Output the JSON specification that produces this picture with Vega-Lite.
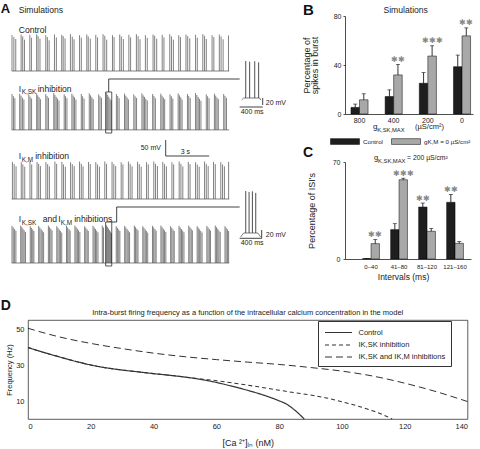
{
"$schema": "https://vega.github.io/schema/vega-lite/v6.json",
"padding": {"left": 0, "top": 3, "right": 0, "bottom": 0},
"config": {
  "font": "Liberation Sans",
  "view": {"stroke": null},
  "axis": {"grid": false, "domainColor": "#222", "tickColor": "#222", "labelColor": "#222", "titleColor": "#222", "titleFontWeight": "normal", "domainWidth": 0.8, "tickWidth": 0.8},
  "legend": {"labelColor": "#222"}
},
"datasets": {
  "base": [{"t":0,"t2":15,"v":-68},{"t":0,"t2":15,"v":-252},{"t":0,"t2":15,"v":-468},{"t":0,"t2":15,"v":-668}],
  "s1": [{"t":0.02,"v":44},{"t":0.15,"v":38},{"t":0.28,"v":32},{"t":0.65,"v":46},{"t":0.76,"v":40},{"t":0.88,"v":30},{"t":1.25,"v":45},{"t":1.36,"v":36},{"t":1.72,"v":47},{"t":1.82,"v":41},{"t":1.95,"v":33},{"t":2.35,"v":44},{"t":2.46,"v":38},{"t":2.58,"v":28},{"t":2.95,"v":46},{"t":3.08,"v":37},{"t":3.45,"v":45},{"t":3.55,"v":41},{"t":3.68,"v":34},{"t":4.05,"v":47},{"t":4.18,"v":39},{"t":4.3,"v":31},{"t":4.68,"v":44},{"t":4.8,"v":36},{"t":5.18,"v":46},{"t":5.28,"v":40},{"t":5.42,"v":33},{"t":5.8,"v":45},{"t":5.92,"v":37},{"t":6.3,"v":47},{"t":6.42,"v":42},{"t":6.55,"v":30},{"t":6.95,"v":44},{"t":7.06,"v":38},{"t":7.45,"v":46},{"t":7.56,"v":40},{"t":7.7,"v":32},{"t":8.08,"v":45},{"t":8.2,"v":37},{"t":8.6,"v":47},{"t":8.72,"v":41},{"t":8.85,"v":31},{"t":9.22,"v":44},{"t":9.35,"v":36},{"t":9.75,"v":46},{"t":9.86,"v":42},{"t":10.0,"v":33},{"t":10.38,"v":45},{"t":10.5,"v":37},{"t":10.9,"v":47},{"t":11.02,"v":40},{"t":11.15,"v":30},{"t":11.52,"v":44},{"t":11.64,"v":38},{"t":12.02,"v":46},{"t":12.14,"v":41},{"t":12.28,"v":34},{"t":12.68,"v":45},{"t":12.8,"v":36},{"t":13.18,"v":47},{"t":13.3,"v":42},{"t":13.42,"v":32},{"t":13.82,"v":44},{"t":13.94,"v":38},{"t":14.32,"v":46},{"t":14.44,"v":40},{"t":14.58,"v":31},{"t":14.95,"v":43}],
  "s2": [{"t":0.02,"v":-140},{"t":0.12,"v":-147},{"t":0.22,"v":-153},{"t":0.55,"v":-139},{"t":0.64,"v":-145},{"t":0.74,"v":-151},{"t":0.84,"v":-157},{"t":1.18,"v":-141},{"t":1.27,"v":-148},{"t":1.37,"v":-154},{"t":1.72,"v":-138},{"t":1.8,"v":-144},{"t":1.89,"v":-150},{"t":1.98,"v":-156},{"t":2.35,"v":-140},{"t":2.44,"v":-146},{"t":2.54,"v":-152},{"t":2.9,"v":-137},{"t":2.98,"v":-143},{"t":3.07,"v":-149},{"t":3.16,"v":-154},{"t":3.26,"v":-160},{"t":3.62,"v":-141},{"t":3.71,"v":-147},{"t":3.81,"v":-153},{"t":4.15,"v":-139},{"t":4.24,"v":-145},{"t":4.33,"v":-150},{"t":4.43,"v":-157},{"t":4.8,"v":-140},{"t":4.89,"v":-147},{"t":4.99,"v":-154},{"t":5.35,"v":-138},{"t":5.44,"v":-144},{"t":5.53,"v":-150},{"t":5.62,"v":-156},{"t":6.0,"v":-141},{"t":6.09,"v":-147},{"t":6.19,"v":-152},{"t":6.55,"v":-137},{"t":6.62,"v":-143},{"t":6.7,"v":-149},{"t":6.78,"v":-155},{"t":6.86,"v":-160},{"t":7.22,"v":-140},{"t":7.31,"v":-146},{"t":7.41,"v":-153},{"t":7.78,"v":-139},{"t":7.87,"v":-145},{"t":7.96,"v":-151},{"t":8.05,"v":-157},{"t":8.42,"v":-141},{"t":8.51,"v":-147},{"t":8.61,"v":-152},{"t":8.98,"v":-138},{"t":9.07,"v":-144},{"t":9.16,"v":-149},{"t":9.25,"v":-155},{"t":9.35,"v":-160},{"t":9.72,"v":-140},{"t":9.81,"v":-146},{"t":9.91,"v":-153},{"t":10.28,"v":-139},{"t":10.37,"v":-145},{"t":10.46,"v":-151},{"t":10.55,"v":-156},{"t":10.92,"v":-141},{"t":11.01,"v":-147},{"t":11.11,"v":-154},{"t":11.48,"v":-138},{"t":11.57,"v":-144},{"t":11.66,"v":-150},{"t":11.75,"v":-157},{"t":12.12,"v":-140},{"t":12.21,"v":-146},{"t":12.31,"v":-152},{"t":12.68,"v":-137},{"t":12.77,"v":-143},{"t":12.86,"v":-149},{"t":12.95,"v":-155},{"t":13.05,"v":-161},{"t":13.42,"v":-141},{"t":13.51,"v":-147},{"t":13.61,"v":-153},{"t":13.98,"v":-139},{"t":14.07,"v":-145},{"t":14.16,"v":-151},{"t":14.25,"v":-156},{"t":14.62,"v":-140},{"t":14.71,"v":-146},{"t":14.81,"v":-152}],
  "s3": [{"t":0.05,"v":-352},{"t":0.17,"v":-359},{"t":0.3,"v":-366},{"t":0.66,"v":-353},{"t":0.77,"v":-360},{"t":0.9,"v":-367},{"t":1.26,"v":-351},{"t":1.38,"v":-360},{"t":1.75,"v":-352},{"t":1.86,"v":-358},{"t":1.98,"v":-365},{"t":2.36,"v":-353},{"t":2.48,"v":-359},{"t":2.6,"v":-366},{"t":2.98,"v":-351},{"t":3.1,"v":-358},{"t":3.46,"v":-352},{"t":3.57,"v":-360},{"t":3.7,"v":-367},{"t":4.06,"v":-353},{"t":4.18,"v":-359},{"t":4.31,"v":-365},{"t":4.68,"v":-351},{"t":4.8,"v":-358},{"t":4.92,"v":-366},{"t":5.3,"v":-352},{"t":5.42,"v":-359},{"t":5.8,"v":-353},{"t":5.92,"v":-360},{"t":6.05,"v":-367},{"t":6.42,"v":-351},{"t":6.54,"v":-358},{"t":6.92,"v":-352},{"t":7.04,"v":-359},{"t":7.17,"v":-365},{"t":7.55,"v":-353},{"t":7.67,"v":-360},{"t":8.05,"v":-351},{"t":8.17,"v":-358},{"t":8.3,"v":-366},{"t":8.68,"v":-352},{"t":8.8,"v":-359},{"t":8.93,"v":-367},{"t":9.3,"v":-353},{"t":9.42,"v":-360},{"t":9.8,"v":-351},{"t":9.92,"v":-358},{"t":10.05,"v":-365},{"t":10.42,"v":-352},{"t":10.54,"v":-359},{"t":10.67,"v":-366},{"t":11.05,"v":-353},{"t":11.17,"v":-360},{"t":11.55,"v":-351},{"t":11.67,"v":-358},{"t":11.8,"v":-366},{"t":12.18,"v":-352},{"t":12.3,"v":-359},{"t":12.68,"v":-353},{"t":12.8,"v":-360},{"t":12.93,"v":-367},{"t":13.3,"v":-351},{"t":13.42,"v":-358},{"t":13.55,"v":-365},{"t":13.92,"v":-352},{"t":14.04,"v":-359},{"t":14.42,"v":-353},{"t":14.54,"v":-360},{"t":14.67,"v":-366},{"t":14.96,"v":-352}],
  "s4": [{"t":0.02,"v":-552},{"t":0.11,"v":-557},{"t":0.2,"v":-562},{"t":0.29,"v":-567},{"t":0.62,"v":-551},{"t":0.7,"v":-556},{"t":0.78,"v":-561},{"t":0.86,"v":-566},{"t":0.95,"v":-571},{"t":1.28,"v":-553},{"t":1.36,"v":-558},{"t":1.45,"v":-563},{"t":1.53,"v":-568},{"t":1.86,"v":-552},{"t":1.94,"v":-557},{"t":2.03,"v":-562},{"t":2.11,"v":-567},{"t":2.2,"v":-572},{"t":2.53,"v":-551},{"t":2.61,"v":-556},{"t":2.7,"v":-561},{"t":2.78,"v":-566},{"t":3.11,"v":-553},{"t":3.19,"v":-558},{"t":3.28,"v":-563},{"t":3.36,"v":-568},{"t":3.45,"v":-573},{"t":3.78,"v":-552},{"t":3.86,"v":-557},{"t":3.95,"v":-562},{"t":4.03,"v":-567},{"t":4.36,"v":-551},{"t":4.44,"v":-556},{"t":4.53,"v":-561},{"t":4.61,"v":-566},{"t":4.7,"v":-571},{"t":5.03,"v":-553},{"t":5.11,"v":-558},{"t":5.2,"v":-563},{"t":5.28,"v":-568},{"t":5.61,"v":-552},{"t":5.69,"v":-557},{"t":5.78,"v":-562},{"t":5.86,"v":-567},{"t":5.95,"v":-572},{"t":6.25,"v":-551},{"t":6.33,"v":-557},{"t":6.53,"v":-550},{"t":6.6,"v":-555},{"t":6.67,"v":-560},{"t":6.74,"v":-565},{"t":6.81,"v":-570},{"t":6.88,"v":-575},{"t":7.21,"v":-553},{"t":7.29,"v":-558},{"t":7.38,"v":-563},{"t":7.46,"v":-568},{"t":7.79,"v":-552},{"t":7.87,"v":-557},{"t":7.96,"v":-562},{"t":8.04,"v":-567},{"t":8.13,"v":-572},{"t":8.46,"v":-551},{"t":8.54,"v":-556},{"t":8.63,"v":-561},{"t":8.71,"v":-566},{"t":9.04,"v":-553},{"t":9.12,"v":-558},{"t":9.21,"v":-563},{"t":9.29,"v":-568},{"t":9.38,"v":-573},{"t":9.71,"v":-552},{"t":9.79,"v":-557},{"t":9.88,"v":-562},{"t":9.96,"v":-567},{"t":10.29,"v":-551},{"t":10.37,"v":-556},{"t":10.46,"v":-561},{"t":10.54,"v":-566},{"t":10.63,"v":-571},{"t":10.96,"v":-553},{"t":11.04,"v":-558},{"t":11.13,"v":-563},{"t":11.21,"v":-568},{"t":11.54,"v":-552},{"t":11.62,"v":-557},{"t":11.71,"v":-562},{"t":11.79,"v":-567},{"t":11.88,"v":-572},{"t":12.21,"v":-551},{"t":12.29,"v":-556},{"t":12.38,"v":-561},{"t":12.46,"v":-566},{"t":12.79,"v":-553},{"t":12.87,"v":-558},{"t":12.96,"v":-563},{"t":13.04,"v":-568},{"t":13.13,"v":-573},{"t":13.46,"v":-552},{"t":13.54,"v":-557},{"t":13.63,"v":-562},{"t":13.71,"v":-567},{"t":14.04,"v":-551},{"t":14.12,"v":-556},{"t":14.21,"v":-561},{"t":14.29,"v":-566},{"t":14.38,"v":-571},{"t":14.71,"v":-553},{"t":14.79,"v":-558},{"t":14.88,"v":-563},{"t":14.96,"v":-568}],
  "ins": [{"t":16.14,"v":-36.75,"v2":-152.4},{"t":16.41,"v":-39,"v2":-152.4},{"t":16.76,"v":-37.5,"v2":-152.4},{"t":17.03,"v":-41,"v2":-152.4},{"t":16.14,"v":-443,"v2":-574.25},{"t":16.37,"v":-446,"v2":-574.25},{"t":16.6,"v":-444,"v2":-574.25},{"t":16.83,"v":-449,"v2":-574.25}],
  "hump": [{"k":1,"t":15.86,"v":-158.6},{"k":1,"t":16.0,"v":-152.4},{"k":1,"t":17.1,"v":-152.4},{"k":1,"t":17.17,"v":-158.6},{"k":2,"t":15.79,"v":-586.75},{"k":2,"t":16.0,"v":-574.25},{"k":2,"t":16.97,"v":-574.25},{"k":2,"t":17.17,"v":-586.75}],
  "seg": [{"t":6.69,"t2":6.69,"v":-133.6,"v2":-93},{"t":6.69,"t2":15.72,"v":-93,"v2":-93},{"t":6.9,"t2":7.24,"v":-539.9,"v2":-539.9},{"t":7.24,"t2":7.24,"v":-539.9,"v2":-493},{"t":7.24,"t2":15.72,"v":-493,"v2":-493},{"t":10.62,"t2":10.62,"v":-283.6,"v2":-333.6},{"t":10.62,"t2":13.62,"v":-333.6,"v2":-333.6},{"t":17.31,"t2":17.31,"v":-152.4,"v2":-174.25},{"t":15.72,"t2":17.31,"v":-180.5,"v2":-180.5},{"t":17.24,"t2":17.24,"v":-564.9,"v2":-590.8},{"t":15.72,"t2":17.24,"v":-590.8,"v2":-590.8}],
  "box": [{"t":6.48,"t2":6.9,"v":-133.6,"v2":-261.75},{"t":6.48,"t2":6.9,"v":-539.9,"v2":-677.4}],
  "tA": [{"t":-0.7586,"v":113.25,"s":"A"}],
  "tM": [{"t":0.483,"v":113.25,"s":"Simulations"},{"t":0.483,"v":50.75,"s":"Control"},{"t":0.483,"v":-133.6,"s":"I"},{"t":1.793,"v":-133.6,"s":"inhibition"},{"t":0.483,"v":-343,"s":"I"},{"t":1.62,"v":-343,"s":"inhibition"},{"t":0.483,"v":-539.9,"s":"I"},{"t":2.138,"v":-539.9,"s":"and"},{"t":3.207,"v":-539.9,"s":"I"},{"t":4.31,"v":-539.9,"s":"inhibitions"}],
  "tS": [{"t":0.69,"v":-133.6,"s":"K,SK"},{"t":0.69,"v":-343,"s":"K,M"},{"t":0.69,"v":-539.9,"s":"K,SK"},{"t":3.379,"v":-539.9,"s":"K,M"}],
  "tR": [{"t":8.897,"v":-314.9,"s":"50 mV"},{"t":11.655,"v":-328.9,"s":"3 s"},{"t":17.52,"v":-174.25,"s":"20 mV"},{"t":15.79,"v":-202.4,"s":"400 ms"},{"t":17.52,"v":-586.75,"s":"20 mV"},{"t":15.79,"v":-611.75,"s":"400 ms"}],
  "bData": [
    {"g":"800","c":"Control","m":5.4,"hi":8.1,"s":""},
    {"g":"800","c":"gK,M = 0 µS/cm²","m":11.6,"hi":16.5,"s":""},
    {"g":"400","c":"Control","m":14.3,"hi":19.7,"s":""},
    {"g":"400","c":"gK,M = 0 µS/cm²","m":31.9,"hi":40.5,"s":"✱✱"},
    {"g":"200","c":"Control","m":25.1,"hi":33.8,"s":""},
    {"g":"200","c":"gK,M = 0 µS/cm²","m":47.3,"hi":55.7,"s":"✱✱✱"},
    {"g":"0","c":"Control","m":38.6,"hi":48.1,"s":""},
    {"g":"0","c":"gK,M = 0 µS/cm²","m":63.8,"hi":70.3,"s":"✱✱"}
  ],
  "cData": [
    {"iv":"0–40","c":"Control","m":0.3,"hi":0.3,"s":""},
    {"iv":"0–40","c":"gK,M = 0 µS/cm²","m":11.1,"hi":14.0,"s":"✱✱"},
    {"iv":"41–80","c":"Control","m":21.2,"hi":25.5,"s":""},
    {"iv":"41–80","c":"gK,M = 0 µS/cm²","m":57.2,"hi":58.3,"s":"✱✱✱"},
    {"iv":"81–120","c":"Control","m":37.5,"hi":40.4,"s":"✱✱"},
    {"iv":"81–120","c":"gK,M = 0 µS/cm²","m":20.0,"hi":22.0,"s":""},
    {"iv":"121–160","c":"Control","m":40.9,"hi":46.6,"s":"✱✱"},
    {"iv":"121–160","c":"gK,M = 0 µS/cm²","m":11.3,"hi":12.6,"s":""}
  ],
  "dData": [
    {"s":"Control","ca":0,"f":39.7},{"s":"Control","ca":5,"f":37.0},{"s":"Control","ca":10,"f":34.5},{"s":"Control","ca":15,"f":32.1},{"s":"Control","ca":20,"f":30.0},{"s":"Control","ca":25,"f":28.4},{"s":"Control","ca":30,"f":27.2},{"s":"Control","ca":35,"f":26.2},{"s":"Control","ca":40,"f":25.2},{"s":"Control","ca":45,"f":24.3},{"s":"Control","ca":50,"f":23.3},{"s":"Control","ca":55,"f":22.0},{"s":"Control","ca":60,"f":20.3},{"s":"Control","ca":65,"f":18.2},{"s":"Control","ca":70,"f":15.9},{"s":"Control","ca":75,"f":13.3},{"s":"Control","ca":80,"f":10.1},{"s":"Control","ca":82,"f":8.6},{"s":"Control","ca":85,"f":4.9},{"s":"Control","ca":88,"f":0},
    {"s":"IK,SK inhibition","ca":0,"f":39.7},{"s":"IK,SK inhibition","ca":5,"f":37.0},{"s":"IK,SK inhibition","ca":10,"f":34.5},{"s":"IK,SK inhibition","ca":15,"f":32.1},{"s":"IK,SK inhibition","ca":20,"f":30.0},{"s":"IK,SK inhibition","ca":25,"f":28.4},{"s":"IK,SK inhibition","ca":30,"f":27.2},{"s":"IK,SK inhibition","ca":35,"f":26.2},{"s":"IK,SK inhibition","ca":40,"f":25.2},{"s":"IK,SK inhibition","ca":45,"f":24.3},{"s":"IK,SK inhibition","ca":50,"f":23.3},{"s":"IK,SK inhibition","ca":55,"f":22.2},{"s":"IK,SK inhibition","ca":60,"f":21.3},{"s":"IK,SK inhibition","ca":65,"f":20.1},{"s":"IK,SK inhibition","ca":70,"f":18.8},{"s":"IK,SK inhibition","ca":75,"f":17.4},{"s":"IK,SK inhibition","ca":80,"f":16.0},{"s":"IK,SK inhibition","ca":85,"f":14.6},{"s":"IK,SK inhibition","ca":90,"f":13.3},{"s":"IK,SK inhibition","ca":95,"f":11.7},{"s":"IK,SK inhibition","ca":100,"f":9.6},{"s":"IK,SK inhibition","ca":105,"f":7.2},{"s":"IK,SK inhibition","ca":110,"f":4.4},{"s":"IK,SK inhibition","ca":113,"f":2.4},{"s":"IK,SK inhibition","ca":116,"f":0},
    {"s":"IK,SK and IK,M inhibitions","ca":0,"f":50.4},{"s":"IK,SK and IK,M inhibitions","ca":10,"f":45.6},{"s":"IK,SK and IK,M inhibitions","ca":20,"f":42.0},{"s":"IK,SK and IK,M inhibitions","ca":30,"f":39.1},{"s":"IK,SK and IK,M inhibitions","ca":40,"f":36.6},{"s":"IK,SK and IK,M inhibitions","ca":50,"f":34.6},{"s":"IK,SK and IK,M inhibitions","ca":60,"f":33.0},{"s":"IK,SK and IK,M inhibitions","ca":70,"f":31.6},{"s":"IK,SK and IK,M inhibitions","ca":80,"f":30.3},{"s":"IK,SK and IK,M inhibitions","ca":90,"f":28.6},{"s":"IK,SK and IK,M inhibitions","ca":100,"f":26.6},{"s":"IK,SK and IK,M inhibitions","ca":110,"f":23.8},{"s":"IK,SK and IK,M inhibitions","ca":120,"f":19.9},{"s":"IK,SK and IK,M inhibitions","ca":130,"f":15.2},{"s":"IK,SK and IK,M inhibitions","ca":140,"f":9.7}
  ]
},
"spacing": 12,
"resolve": {"scale": {"color": "independent", "strokeDash": "independent", "strokeWidth": "independent"}, "legend": {"color": "independent", "strokeDash": "independent", "strokeWidth": "independent"}},
"vconcat": [
  {
    "spacing": 15,
    "resolve": {"scale": {"color": "independent"}, "legend": {"color": "independent"}},
    "hconcat": [
      {
        "width": 258,
        "height": 270,
        "encoding": {
          "x": {"field": "t", "type": "quantitative", "scale": {"domain": [1.1241, 18.917], "nice": false, "zero": false}, "axis": null},
          "y": {"field": "v", "type": "quantitative", "scale": {"domain": [-739.875, 103.875], "nice": false, "zero": false}, "axis": null}
        },
        "layer": [
          {"data": {"name": "base"}, "mark": {"type": "rule", "color": "#666", "strokeWidth": 0.8}, "encoding": {"x2": {"field": "t2"}}},
          {"data": {"name": "s1"}, "mark": {"type": "rule", "color": "#4a4a4a", "strokeWidth": 0.7}, "encoding": {"y2": {"datum": -68}}},
          {"data": {"name": "s2"}, "mark": {"type": "rule", "color": "#4a4a4a", "strokeWidth": 0.7}, "encoding": {"y2": {"datum": -252}}},
          {"data": {"name": "s3"}, "mark": {"type": "rule", "color": "#4a4a4a", "strokeWidth": 0.7}, "encoding": {"y2": {"datum": -468}}},
          {"data": {"name": "s4"}, "mark": {"type": "rule", "color": "#4a4a4a", "strokeWidth": 0.7}, "encoding": {"y2": {"datum": -668}}},
          {"data": {"name": "ins"}, "mark": {"type": "rule", "color": "#222", "strokeWidth": 0.8}, "encoding": {"y2": {"field": "v2"}}},
          {"data": {"name": "hump"}, "mark": {"type": "line", "color": "#444", "strokeWidth": 0.7}, "encoding": {"detail": {"field": "k", "type": "nominal"}}},
          {"data": {"name": "seg"}, "mark": {"type": "rule", "color": "#111", "strokeWidth": 0.8}, "encoding": {"x2": {"field": "t2"}, "y2": {"field": "v2"}}},
          {"data": {"name": "box"}, "mark": {"type": "rect", "filled": false, "color": "#111", "strokeWidth": 0.7}, "encoding": {"x2": {"field": "t2"}, "y2": {"field": "v2"}}},
          {"data": {"name": "tA"}, "mark": {"type": "text", "align": "left", "baseline": "alphabetic", "fontSize": 13, "fontWeight": "bold", "color": "#111"}, "encoding": {"text": {"field": "s"}}},
          {"data": {"name": "tM"}, "mark": {"type": "text", "align": "left", "baseline": "alphabetic", "fontSize": 8.6, "color": "#222"}, "encoding": {"text": {"field": "s"}}},
          {"data": {"name": "tS"}, "mark": {"type": "text", "align": "left", "baseline": "alphabetic", "fontSize": 6.4, "dy": 2.5, "color": "#222"}, "encoding": {"text": {"field": "s"}}},
          {"data": {"name": "tR"}, "mark": {"type": "text", "align": "left", "baseline": "alphabetic", "fontSize": 7, "color": "#222"}, "encoding": {"text": {"field": "s"}}}
        ]
      },
      {
        "spacing": 48,
        "bounds": "flush",
        "resolve": {"scale": {"color": "independent", "xOffset": "independent"}, "legend": {"color": "independent"}},
        "vconcat": [
          {
            "width": 128,
            "height": 98,
            "data": {"name": "bData"},
            "encoding": {
              "x": {"field": "g", "type": "nominal", "sort": ["800", "400", "200", "0"], "scale": {"paddingInner": 0.5, "paddingOuter": 0.123, "align": 0.71}, "axis": {"title": null, "labelAngle": 0, "ticks": false, "labelPadding": 2, "labelFontSize": 7}}
            },
            "layer": [
              {"mark": {"type": "bar", "stroke": "#000", "strokeWidth": 0.5},
               "encoding": {
                 "xOffset": {"field": "c", "type": "nominal", "sort": ["Control", "gK,M = 0 µS/cm²"]},
                 "y": {"field": "m", "type": "quantitative", "scale": {"domain": [0, 80], "nice": false}, "axis": {"values": [0, 10, 20, 30, 40, 50, 60, 70, 80], "title": ["Percentage of", "spikes in burst"], "titleFontSize": 9, "titleLineHeight": 8.5, "titleX": -34, "labelFontSize": 7, "tickSize": 2, "labelPadding": 2}},
                 "color": {"field": "c", "type": "nominal", "scale": {"domain": ["Control", "gK,M = 0 µS/cm²"], "range": ["#1e1e1e", "#a8a8a8"]},
                   "legend": {"orient": "none", "legendX": -15, "legendY": 110.5, "direction": "horizontal", "title": null, "symbolType": "M-1,-0.2H1V0.2H-1Z", "symbolSize": 841, "symbolStrokeColor": "#000", "symbolStrokeWidth": 0.5, "labelFontSize": 6.2, "labelOffset": 3, "columnPadding": 7, "padding": 0}}
               }},
              {"mark": {"type": "rule", "color": "#000", "strokeWidth": 0.8},
               "encoding": {"xOffset": {"field": "c", "type": "nominal", "sort": ["Control", "gK,M = 0 µS/cm²"]}, "y": {"field": "m", "type": "quantitative", "scale": {"domain": [0, 80]}}, "y2": {"field": "hi"}}},
              {"mark": {"type": "tick", "color": "#000", "thickness": 0.8, "size": 4},
               "encoding": {"xOffset": {"field": "c", "type": "nominal", "sort": ["Control", "gK,M = 0 µS/cm²"]}, "y": {"field": "hi", "type": "quantitative", "scale": {"domain": [0, 80]}}}},
              {"transform": [{"filter": "datum.s != ''"}],
               "mark": {"type": "text", "baseline": "bottom", "fontSize": 8, "color": "#888", "dy": -0.5},
               "encoding": {"xOffset": {"field": "c", "type": "nominal", "sort": ["Control", "gK,M = 0 µS/cm²"]}, "y": {"field": "hi", "type": "quantitative", "scale": {"domain": [0, 80]}}, "text": {"field": "s"}}},
              {"data": {"values": [{"s": "B"}]}, "mark": {"type": "text", "align": "left", "baseline": "alphabetic", "fontSize": 15, "fontWeight": "bold", "color": "#111", "dx": -56.5, "dy": -1},
               "encoding": {"x": {"datum": "800"}, "y": {"datum": 80}, "text": {"field": "s"}}},
              {"data": {"values": [{"s": "Simulations"}]}, "mark": {"type": "text", "align": "center", "baseline": "alphabetic", "fontSize": 8.6, "color": "#222", "dx": 12, "dy": -3},
               "encoding": {"x": {"datum": "400"}, "y": {"datum": 80}, "text": {"field": "s"}}},
              {"data": {"values": [{"s": "g"}]}, "mark": {"type": "text", "align": "left", "baseline": "alphabetic", "fontSize": 8, "color": "#222", "dx": -20.7, "dy": 15},
               "encoding": {"x": {"datum": "400"}, "y": {"datum": 0}, "text": {"field": "s"}}},
              {"data": {"values": [{"s": "K,SK,MAX"}]}, "mark": {"type": "text", "align": "left", "baseline": "alphabetic", "fontSize": 5.8, "color": "#222", "dx": -16.5, "dy": 17.5},
               "encoding": {"x": {"datum": "400"}, "y": {"datum": 0}, "text": {"field": "s"}}},
              {"data": {"values": [{"s": "(µS/cm²)"}]}, "mark": {"type": "text", "align": "left", "baseline": "alphabetic", "fontSize": 7.5, "color": "#222", "dx": 21.3, "dy": 15},
               "encoding": {"x": {"datum": "400"}, "y": {"datum": 0}, "text": {"field": "s"}}}
            ]
          },
          {
            "width": 126,
            "height": 97,
            "data": {"name": "cData"},
            "encoding": {
              "x": {"field": "iv", "type": "nominal", "sort": ["0–40", "41–80", "81–120", "121–160"], "scale": {"paddingInner": 0.4, "paddingOuter": 0.45, "align": 0.7}, "axis": {"title": "Intervals (ms)", "titleFontSize": 8.5, "titlePadding": 3, "titleX": 58, "labelAngle": 0, "ticks": false, "labelPadding": 4, "labelFontSize": 6}}
            },
            "layer": [
              {"mark": {"type": "bar", "stroke": "#000", "strokeWidth": 0.5},
               "encoding": {
                 "xOffset": {"field": "c", "type": "nominal", "sort": ["Control", "gK,M = 0 µS/cm²"]},
                 "y": {"field": "m", "type": "quantitative", "scale": {"domain": [0, 70], "nice": false}, "axis": {"values": [0, 10, 20, 30, 40, 50, 60, 70], "title": "Percentage of ISI's", "titleFontSize": 9, "titleX": -29, "labelFontSize": 7, "tickSize": 2, "labelPadding": 3}},
                 "color": {"field": "c", "type": "nominal", "scale": {"domain": ["Control", "gK,M = 0 µS/cm²"], "range": ["#1e1e1e", "#a8a8a8"]}, "legend": null}
               }},
              {"mark": {"type": "rule", "color": "#000", "strokeWidth": 0.8},
               "encoding": {"xOffset": {"field": "c", "type": "nominal", "sort": ["Control", "gK,M = 0 µS/cm²"]}, "y": {"field": "m", "type": "quantitative", "scale": {"domain": [0, 70]}}, "y2": {"field": "hi"}}},
              {"mark": {"type": "tick", "color": "#000", "thickness": 0.8, "size": 4},
               "encoding": {"xOffset": {"field": "c", "type": "nominal", "sort": ["Control", "gK,M = 0 µS/cm²"]}, "y": {"field": "hi", "type": "quantitative", "scale": {"domain": [0, 70]}}}},
              {"transform": [{"filter": "datum.s != ''"}],
               "mark": {"type": "text", "baseline": "bottom", "fontSize": 8, "color": "#888", "dy": -0.5},
               "encoding": {"xOffset": {"field": "c", "type": "nominal", "sort": ["Control", "gK,M = 0 µS/cm²"]}, "y": {"field": "hi", "type": "quantitative", "scale": {"domain": [0, 70]}}, "text": {"field": "s"}}},
              {"data": {"values": [{"s": "C"}]}, "mark": {"type": "text", "align": "left", "baseline": "alphabetic", "fontSize": 14, "fontWeight": "bold", "color": "#111", "dx": -68, "dy": -5},
               "encoding": {"x": {"datum": "0–40"}, "y": {"datum": 70}, "text": {"field": "s"}}},
              {"data": {"values": [{"s": "g"}]}, "mark": {"type": "text", "align": "left", "baseline": "alphabetic", "fontSize": 7.5, "color": "#222", "dx": -25, "dy": -2},
               "encoding": {"x": {"datum": "41–80"}, "y": {"datum": 70}, "text": {"field": "s"}}},
              {"data": {"values": [{"s": "K,SK,MAX"}]}, "mark": {"type": "text", "align": "left", "baseline": "alphabetic", "fontSize": 5.8, "color": "#222", "dx": -21, "dy": 0.5},
               "encoding": {"x": {"datum": "41–80"}, "y": {"datum": 70}, "text": {"field": "s"}}},
              {"data": {"values": [{"s": "= 200 µS/cm²"}]}, "mark": {"type": "text", "align": "left", "baseline": "alphabetic", "fontSize": 6.8, "color": "#222", "dx": 8, "dy": -2},
               "encoding": {"x": {"datum": "41–80"}, "y": {"datum": 70}, "text": {"field": "s"}}}
            ]
          }
        ]
      }
    ]
  },
  {
    "width": 439.5,
    "height": 99,
    "view": {"stroke": "#333", "strokeWidth": 0.8},
    "layer": [
      {
        "data": {"name": "dData"},
        "mark": {"type": "line", "interpolate": "monotone"},
        "encoding": {
          "x": {"field": "ca", "type": "quantitative", "scale": {"domain": [0, 140], "nice": false}, "axis": {"values": [0, 20, 40, 60, 80, 100, 120, 140], "title": "[Ca ²⁺]ᵢₙ (nM)", "titleFontSize": 9, "titlePadding": 9, "labelFontSize": 7.5, "ticks": false, "labelPadding": 3, "domain": false}},
          "y": {"field": "f", "type": "quantitative", "scale": {"domain": [0, 55], "nice": false}, "axis": {"values": [10, 20, 30, 40, 50], "title": "Frequency (Hz)", "titleFontSize": 7.5, "titlePadding": 2, "labelFontSize": 7.5, "ticks": false, "labelPadding": 4, "domain": false}},
          "color": {"field": "s", "type": "nominal", "scale": {"domain": ["Control", "IK,SK inhibition", "IK,SK and IK,M inhibitions"], "range": ["#333333", "#333333", "#1a1a1a"]},
            "legend": {"orient": "none", "legendX": 290, "legendY": 1, "title": null, "fillColor": "#fff", "strokeColor": "#333", "padding": 5.5, "labelFontSize": 7.5, "symbolType": "M-2.7,0H2.7", "symbolSize": 100, "symbolOffset": 9, "rowPadding": 2.5, "labelOffset": 14}},
          "strokeDash": {"field": "s", "type": "nominal", "scale": {"domain": ["Control", "IK,SK inhibition", "IK,SK and IK,M inhibitions"], "range": [[1, 0], [4, 3], [7, 4]]},
            "legend": {"orient": "none", "legendX": 290, "legendY": 1, "title": null, "fillColor": "#fff", "strokeColor": "#333", "padding": 5.5, "labelFontSize": 7.5, "symbolType": "M-2.7,0H2.7", "symbolSize": 100, "symbolOffset": 9, "rowPadding": 2.5, "labelOffset": 14}},
          "strokeWidth": {"field": "s", "type": "nominal", "scale": {"domain": ["Control", "IK,SK inhibition", "IK,SK and IK,M inhibitions"], "range": [1.2, 0.9, 2.8]},
            "legend": {"orient": "none", "legendX": 290, "legendY": 1, "title": null, "fillColor": "#fff", "strokeColor": "#333", "padding": 5.5, "labelFontSize": 7.5, "symbolType": "M-2.7,0H2.7", "symbolSize": 100, "symbolOffset": 9, "rowPadding": 2.5, "labelOffset": 14}}
        }
      },
      {
        "data": {"values": [{"s": "Intra-burst firing frequency as a function of the intracellular calcium concentration in the model"}]},
        "mark": {"type": "text", "align": "center", "baseline": "alphabetic", "fontSize": 7.5, "color": "#222", "dy": -5},
        "encoding": {"x": {"datum": 70}, "y": {"datum": 55}, "text": {"field": "s"}}
      },
      {
        "data": {"values": [{"s": "D"}]},
        "mark": {"type": "text", "align": "left", "baseline": "alphabetic", "fontSize": 14, "fontWeight": "bold", "color": "#111", "dx": -27.3, "dy": -10},
        "encoding": {"x": {"datum": 0}, "y": {"datum": 55}, "text": {"field": "s"}}
      }
    ]
  }
]
}
